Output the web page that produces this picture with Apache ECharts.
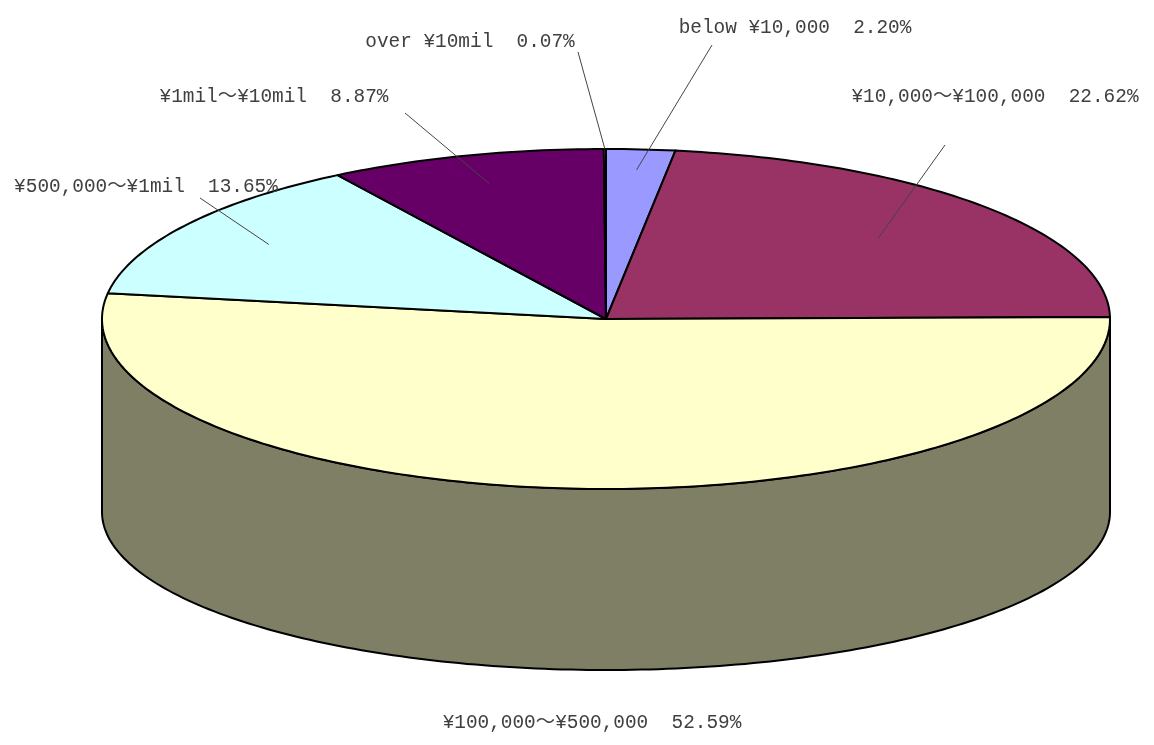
<!DOCTYPE html>
<html>
<head>
<meta charset="utf-8">
<script src="https://cdn.jsdelivr.net/npm/echarts@6/dist/echarts.min.js"></script>
<style>
html, body { margin: 0; padding: 0; background: #fff; }
#chart { width: 1154px; height: 745px; }
</style>
</head>
<body>
<div id="chart"></div>
<script>
// slices go clockwise from 12 o'clock
const names = ['below ¥10,000', '¥10,000～¥100,000', '¥100,000～¥500,000', '¥500,000～¥1mil', '¥1mil～¥10mil', 'over ¥10mil'];
const shares = [2.20, 22.62, 52.59, 13.65, 8.87, 0.07];
const shareLabels = ['2.20%', '22.62%', '52.59%', '13.65%', '8.87%', '0.07%'];

// styles
const topColors = ['#9999ff', '#993366', '#ffffcc', '#ccffff', '#660066', '#ff8080'];

// label placement (text centre, leader end, leader start radius factor)
const labelLayout = [
  { at: [795, 28], end: [712, 45], k: 0.88 },
  { at: [995, 97], end: [945, 145], k: 0.72 },
  { at: [592, 723], end: null, k: 0 },
  { at: [146, 187], end: [200, 198], k: 0.8 },
  { at: [274, 97], end: [405, 113], k: 0.83 },
  { at: [470, 42], end: [578, 52], k: 1.0 }
];

// pie geometry
const cx = 606, cy = 319, rx = 504, ry = 170;
const cyBottom = 512, ryBottom = 158;

function half(hex) {
  const n = parseInt(hex.slice(1), 16);
  const r = (n >> 16) >> 1, g = ((n >> 8) & 255) >> 1, b = (n & 255) >> 1;
  return 'rgb(' + r + ',' + g + ',' + b + ')';
}

function pt(deg, k, bottom) {
  const t = deg * Math.PI / 180;
  if (bottom) return [cx + rx * Math.sin(t), cyBottom - ryBottom * Math.cos(t)];
  return [cx + k * rx * Math.sin(t), cy - k * ry * Math.cos(t)];
}

function arc(from, to, bottom) {
  const n = Math.max(2, Math.ceil(Math.abs(to - from)) + 1);
  const out = [];
  for (let j = 0; j < n; j++) out.push(pt(from + (to - from) * j / (n - 1), 1, bottom));
  return out;
}

const total = shares.reduce((a, b) => a + b, 0);
const font = '19.4px "Liberation Mono", "Noto Sans CJK JP", monospace';

function renderItem(params, api) {
  const i = params.dataIndex;
  let before = 0;
  for (let j = 0; j < i; j++) before += shares[j];
  const a0 = before / total * 360;
  const a1 = (before + api.value(0)) / total * 360;
  const children = [];

  // front wall
  const s = Math.max(a0, 90), e = Math.min(a1, 270);
  if (s < e) {
    children.push({
      type: 'polygon',
      z2: 1,
      shape: { points: arc(s, e, false).concat(arc(e, s, true)) },
      style: { fill: half(topColors[i]), stroke: '#000', lineWidth: 2 }
    });
  }

  // top face
  children.push({
    type: 'polygon',
    z2: 2,
    shape: { points: [[cx, cy]].concat(arc(a0, a1, false)) },
    style: { fill: topColors[i], stroke: '#000', lineWidth: 2, lineJoin: 'round' }
  });

  const lay = labelLayout[i];
  if (lay.end) {
    children.push({
      type: 'polyline',
      z2: 3,
      shape: { points: [pt((a0 + a1) / 2, lay.k, false), lay.end] },
      style: { stroke: '#444', lineWidth: 1, fill: null }
    });
  }
  children.push({
    type: 'text',
    z2: 4,
    x: lay.at[0],
    y: lay.at[1],
    style: {
      text: names[i] + '  ' + shareLabels[i],
      font: font,
      fill: '#404040',
      align: 'center',
      verticalAlign: 'middle'
    }
  });

  return { type: 'group', children: children };
}

const chart = echarts.init(document.getElementById('chart'));
chart.setOption({
  animation: false,
  series: [{
    type: 'custom',
    coordinateSystem: 'none',
    silent: true,
    data: shares.map(v => [v]),
    renderItem: renderItem
  }]
});
</script>
</body>
</html>
